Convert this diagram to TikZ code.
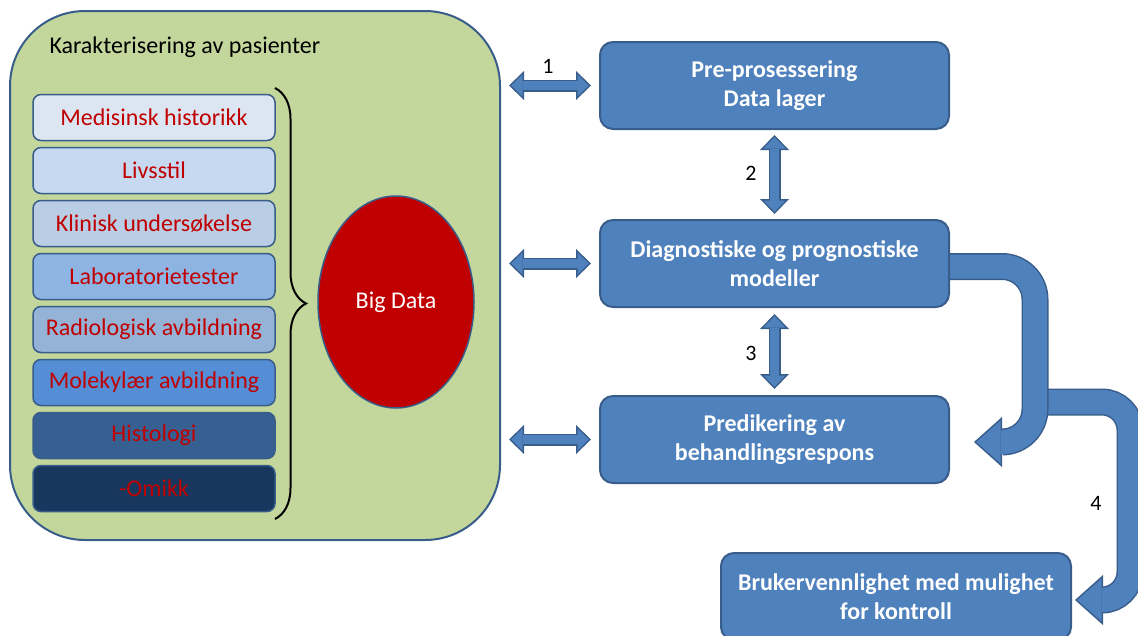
\documentclass[tikz,border=0pt]{standalone}
\usepackage{fontspec}
\setmainfont{Carlito}
\usetikzlibrary{shapes.geometric,arrows.meta,decorations.pathreplacing,backgrounds}

\definecolor{panelgreen}{RGB}{195,214,155}
\definecolor{edgeblue}{RGB}{56,93,138}
\definecolor{boxblue}{RGB}{79,129,189}
\definecolor{itemred}{RGB}{192,0,0}
\definecolor{lst1}{RGB}{220,230,242}
\definecolor{lst2}{RGB}{198,217,241}
\definecolor{lst3}{RGB}{185,205,229}
\definecolor{lst4}{RGB}{142,180,227}
\definecolor{lst5}{RGB}{149,179,215}
\definecolor{lst6}{RGB}{85,142,213}
\definecolor{lst7}{RGB}{55,96,146}
\definecolor{lst8}{RGB}{23,55,94}

\begin{document}
\begin{tikzpicture}[x=1pt, y=-1pt, font=\fontsize{24}{29}\selectfont,
    panel/.style = {draw=edgeblue, line width=2pt, fill=panelgreen, rounded corners=75pt,
                    minimum width=490pt, minimum height=529pt},
    item/.style = {draw=edgeblue, line width=1.5pt, rounded corners=8pt, text=itemred,
                   minimum width=242pt, minimum height=46pt, inner sep=0pt},
    bigdata/.style = {ellipse, draw=edgeblue, line width=1.5pt, fill=itemred, text=white,
                      minimum width=156pt, minimum height=212pt, inner sep=0pt},
    stage/.style = {draw=edgeblue, line width=2pt, fill=boxblue, rounded corners=13pt,
                    text=white, font=\fontsize{24}{29}\selectfont\bfseries, align=center,
                    minimum width=349pt, minimum height=87pt, inner sep=0pt},
    num/.style = {font=\fontsize{22}{26}\selectfont},
    curly/.style = {decorate, decoration={brace, amplitude=31pt}, line width=2pt},
    twoway/.style = {line width=9pt, draw=boxblue,
                     {Triangle[width=21.9pt,length=11.3pt,line width=0pt]}-{Triangle[width=21.9pt,length=11.3pt,line width=0pt]},
                     shorten <=#1+2.2pt, shorten >=#1+2.2pt,
                     preaction={draw=edgeblue, line width=12pt,
                     {Triangle[width=29pt,length=15pt,line width=0pt]}-{Triangle[width=29pt,length=15pt,line width=0pt]},
                     shorten <=#1, shorten >=#1}},
    bendarrow/.style = {line width=24pt, draw=boxblue, rounded corners=33pt,
                        -{Triangle[width=43pt,length=24.3pt,line width=0pt]}, shorten >=#1+2.25pt,
                        preaction={draw=edgeblue, line width=27pt,
                        -{Triangle[width=50pt,length=28pt,line width=0pt]}, shorten >=#1}}]

    \useasboundingbox (0,0) rectangle (1138,635);

    % Patient panel
    \node[panel] (pat) at (255,275.5) {};
    \node[anchor=base west] (title) at (46,53) {Karakterisering av pasienter};

    % Data sources
    \foreach \txt/\col [count=\i] in {Medisinsk historikk/lst1, Livsstil/lst2,
        Klinisk undersøkelse/lst3, Laboratorietester/lst4, Radiologisk avbildning/lst5,
        Molekylær avbildning/lst6, Histologi/lst7, -Omikk/lst8}
        \node[item, fill=\col] (src\i) at (154,64.5+53*\i) {\txt};

    % Brace
    \draw[curly] (275,88) -- (275,519);

    % Big Data
    \node[bigdata] (big) at (396,302) {Big Data};

    % Workflow
    \node[stage] (pre) at (774.5,85.5) {Pre-prosessering\\Data lager};
    \node[stage] (diag) at (774.5,263.5) {Diagnostiske og prognostiske\\modeller};
    \node[stage] (pred) at (774.5,439.5) {Predikering av\\behandlingsrespons};
    \node[stage, minimum width=350pt] (user) at (896,596.5) {Brukervennlighet med mulighet\\for kontroll};

    % Step numbers
    \node[num] (n1) at (548,66) {1};
    \node[num] (n2) at (751,173) {2};
    \node[num] (n3) at (751,353) {3};
    \node[num] (n4) at (1096,503) {4};

    % Arrows
    \begin{scope}[on background layer]
        \draw[twoway=8pt] (pat.east |- pre.west) -- (pre.west);
        \draw[twoway=8pt] (pat.east |- diag.west) -- (diag.west);
        \draw[twoway=8pt] (pat.east |- pred.west) -- (pred.west);
        \draw[twoway=5pt] (pre.south) -- (diag.north);
        \draw[twoway=6pt] (diag.south) -- (pred.north);

        \coordinate (fork) at (1030,402);
        \draw[bendarrow=3pt, rounded corners=28pt] (fork) -| (1130,600) -- ([yshift=-3.5pt]user.east);
        \draw[bendarrow=24pt] ([xshift=-5pt,yshift=-3pt]diag.east) -| (1035,442) -- ([yshift=-2.5pt]pred.east);
    \end{scope}
\end{tikzpicture}
\end{document}
